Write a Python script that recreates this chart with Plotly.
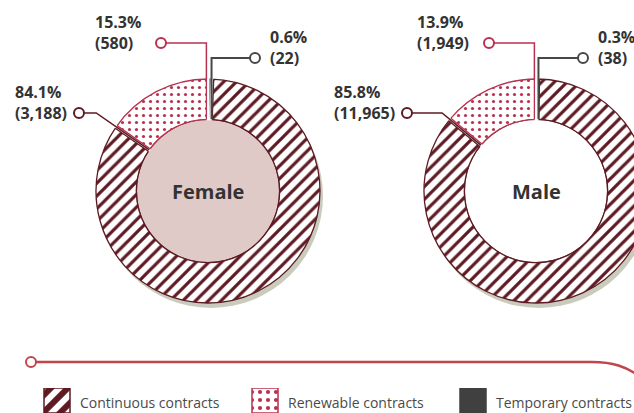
import math
import plotly.graph_objects as go

# ---------------- data ----------------
categories = ["Continuous contracts", "Renewable contracts", "Temporary contracts"]
groups = ["Female", "Male"]
female_pct = [84.1, 15.3, 0.6]
female_cnt = [3188, 580, 22]
male_pct = [85.8, 13.9, 0.3]
male_cnt = [11965, 1949, 38]

# ---------------- style ----------------
MAROON = "#5e1a22"
CRIMSON = "#b8324f"
GRAY = "#474747"
TXT = "#333333"
SHADOW = "#c9ccbc"
FEMALE_FILL = "#e0cac8"
LINE_RED = "#c0464b"

WF, HF = 660, 413          # figure canvas (page clips at 634)
R_OUT, HOLE = 112, 0.64
R_IN = R_OUT * HOLE
CY = 191
centres = {"Female": 208, "Male": 536}
inner_fill = {"Female": FEMALE_FILL, "Male": "white"}
series = {"Female": (female_pct, female_cnt), "Male": (male_pct, male_cnt)}

# drawing order clockwise from 12 o'clock: temporary, continuous, renewable
order = [2, 0, 1]
slice_fg = {0: MAROON, 1: CRIMSON, 2: GRAY}


def pt(cx, r, th):
    t = math.radians(th)
    return cx + r * math.sin(t), CY - r * math.cos(t)


fig = go.Figure()
shapes_below, shapes_above, annotations = [], [], []
circ_x, circ_y, circ_c = [], [], []

for g in groups:
    pct, cnt = series[g]
    cx = centres[g]
    vals = [cnt[i] for i in order]
    fig.add_trace(go.Pie(
        values=vals,
        labels=[categories[i] for i in order],
        sort=False, direction="clockwise", rotation=0, hole=HOLE,
        textinfo="none", hoverinfo="label+value+percent", showlegend=False,
        domain=dict(x=[(cx - R_OUT) / WF, (cx + R_OUT) / WF],
                    y=[(HF - CY - R_OUT) / HF, (HF - CY + R_OUT) / HF]),
        marker=dict(
            colors=[GRAY if i == 2 else "white" for i in order],
            line=dict(color=[slice_fg[i] for i in order], width=1.3),
            pattern=dict(
                shape=["" if i == 2 else ("/" if i == 0 else ".") for i in order],
                fgcolor=[slice_fg[i] for i in order],
                bgcolor=[GRAY if i == 2 else "white" for i in order],
                size=[8 if i == 2 else (9 if i == 0 else 7) for i in order],
                solidity=[1 if i == 2 else (0.36 if i == 0 else 0.16) for i in order],
            ),
        ),
    ))

    # shadow, backing disc, centre disc
    shapes_below.append(dict(type="circle", xref="x", yref="y",
                             x0=cx - R_OUT + 3, x1=cx + R_OUT + 3,
                             y0=CY - R_OUT + 5, y1=CY + R_OUT + 5,
                             fillcolor=SHADOW, line=dict(width=0), layer="below"))
    shapes_below.append(dict(type="circle", xref="x", yref="y",
                             x0=cx - R_OUT, x1=cx + R_OUT, y0=CY - R_OUT, y1=CY + R_OUT,
                             fillcolor="white", line=dict(width=0), layer="below"))
    shapes_below.append(dict(type="circle", xref="x", yref="y",
                             x0=cx - R_IN, x1=cx + R_IN, y0=CY - R_IN, y1=CY + R_IN,
                             fillcolor=inner_fill[g], line=dict(color=MAROON, width=1.5),
                             layer="below"))

    # slice boundaries (clockwise degrees from top)
    total = sum(vals)
    a_t = 360 * cnt[2] / total
    a_c = 360 * cnt[0] / total
    bounds = [(0, 1, 2), (a_t, 2, 0), (a_t + a_c, 0, 1)]  # (angle, before, after)
    for th, before, after in bounds:
        x0, y0 = pt(cx, R_IN - 1, th)
        x1, y1 = pt(cx, R_OUT + 1.5, th)
        shapes_above.append(dict(type="line", xref="x", yref="y", x0=x0, y0=y0, x1=x1, y1=y1,
                                 line=dict(color="white", width=3), layer="above"))
        nx, ny = math.cos(math.radians(th)), math.sin(math.radians(th))
        for idx, sgn in ((before, -1), (after, 1)):
            if idx == 2:
                continue
            ox, oy = sgn * 1.6 * nx, sgn * 1.6 * ny
            a0 = pt(cx, R_IN, th)
            a1 = pt(cx, R_OUT, th)
            shapes_above.append(dict(type="line", xref="x", yref="y",
                                     x0=a0[0] + ox, y0=a0[1] + oy, x1=a1[0] + ox, y1=a1[1] + oy,
                                     line=dict(color=slice_fg[idx], width=1.3), layer="above"))

    # ---- leader lines + labels ----
    # continuous: along the continuous/renewable boundary
    th = a_t + a_c
    cyc = 113
    ccx = cx - 129
    d = (CY - cyc) / math.cos(math.radians(360 - th))
    kx, ky = pt(cx, d, th)
    ex, ey = pt(cx, R_IN, th)
    shapes_above.append(dict(type="path", xref="x", yref="y",
                             path=f"M{ccx + 4.5},{cyc} L{kx},{ky} L{ex},{ey}",
                             line=dict(color=MAROON, width=1.5), layer="above"))
    circ_x.append(ccx); circ_y.append(cyc); circ_c.append(MAROON)
    annotations.append(dict(xref="x", yref="y", x=ccx - 10, y=cyc - 11,
                            xanchor="right", yanchor="middle", align="left",
                            text=f"<b>{pct[0]:.1f}%<br>({cnt[0]:,})</b>", showarrow=False,
                            font=dict(family="Open Sans", size=16, color=TXT)))

    # renewable: from top edge
    rcx, rcy = cx - 47, 43
    shapes_above.append(dict(type="path", xref="x", yref="y",
                             path=f"M{rcx + 4.5},{rcy} L{cx - 1.6},{rcy} L{cx - 1.6},{CY - R_OUT}",
                             line=dict(color=CRIMSON, width=1.5), layer="above"))
    circ_x.append(rcx); circ_y.append(rcy); circ_c.append(CRIMSON)
    annotations.append(dict(xref="x", yref="y", x=rcx - 18, y=rcy - 11,
                            xanchor="right", yanchor="middle", align="left",
                            text=f"<b>{pct[1]:.1f}%<br>({cnt[1]:,})</b>", showarrow=False,
                            font=dict(family="Open Sans", size=16, color=TXT)))

    # temporary
    tcx, tcy = cx + 47, 58
    xt = cx + R_OUT * math.sin(math.radians(a_t / 2)) + 1.5
    shapes_above.append(dict(type="path", xref="x", yref="y",
                             path=f"M{tcx - 4.5},{tcy} L{xt},{tcy} L{xt},{CY - R_IN}",
                             line=dict(color=GRAY, width=2), layer="above"))
    circ_x.append(tcx); circ_y.append(tcy); circ_c.append(GRAY)
    annotations.append(dict(xref="x", yref="y", x=tcx + 13, y=tcy - 11,
                            xanchor="left", yanchor="middle", align="left",
                            text=f"<b>{pct[2]:.1f}%<br>({cnt[2]:,})</b>", showarrow=False,
                            font=dict(family="Open Sans", size=16, color=TXT)))

    # centre label
    annotations.append(dict(xref="x", yref="y", x=cx, y=CY, xanchor="center", yanchor="middle",
                            text=f"<b>{g}</b>", showarrow=False,
                            font=dict(family="Open Sans", size=20, color=TXT)))

# label end circles + bottom ornament circle
circ_x.append(31); circ_y.append(362); circ_c.append(LINE_RED)
fig.add_trace(go.Scatter(x=circ_x, y=circ_y, mode="markers", hoverinfo="skip", showlegend=False,
                         marker=dict(symbol="circle", size=10, color="white",
                                     line=dict(color=circ_c, width=2)),
                         xaxis="x", yaxis="y"))

# bottom decorative rule
shapes_below.append(dict(type="path", xref="x", yref="y",
                         path="M36,362 L592,362 C612,362 626,366 642,378",
                         line=dict(color=LINE_RED, width=2.5), layer="below"))

# legend swatches as a bar trace on its own hidden category axis
fig.add_trace(go.Bar(
    x=categories, y=[1, 1, 1], width=0.125, xaxis="x2", yaxis="y2", showlegend=False,
    hoverinfo="x",
    marker=dict(color=[MAROON, CRIMSON, "#404040"], opacity=1,
                line=dict(color=[MAROON, CRIMSON, "#404040"], width=1.5),
                pattern=dict(shape=["/", ".", ""], fgcolor=[MAROON, CRIMSON, "#404040"],
                             bgcolor=["white", "white", "#404040"], fgopacity=1,
                             fillmode="replace",
                             size=[12, 8, 8], solidity=[0.5, 0.22, 1])),
))
for c in categories:
    annotations.append(dict(xref="x2", yref="paper", x=c, y=(HF - 402) / HF, xshift=21,
                            xanchor="left", yanchor="middle", text=c, showarrow=False,
                            font=dict(family="Open Sans", size=14, color="#4a4a4a")))

fig.update_layout(
    width=WF, height=HF, margin=dict(l=0, r=0, t=0, b=0),
    paper_bgcolor="white", plot_bgcolor="rgba(0,0,0,0)",
    xaxis=dict(range=[0, WF], visible=False, domain=[0, 1], fixedrange=True),
    yaxis=dict(range=[HF, 0], visible=False, domain=[0, 1], fixedrange=True),
    xaxis2=dict(range=[-57 / 208, (WF - 57) / 208], visible=False, domain=[0, 1],
                type="category", anchor="y2", fixedrange=True),
    yaxis2=dict(range=[0, 1], visible=False, domain=[0, 25 / HF], anchor="x2", fixedrange=True),
    shapes=shapes_below + shapes_above,
    annotations=annotations,
)

fig.write_html("out.html", config={"displayModeBar": False},
               post_script="document.documentElement.style.overflow='hidden';"
                           "document.body.style.overflow='hidden';document.body.style.margin='0';")
